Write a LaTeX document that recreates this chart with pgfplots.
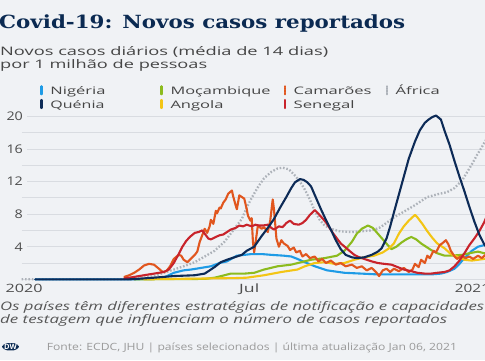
\documentclass[border=0pt]{standalone}
\usepackage{pgfplots}
\pgfplotsset{compat=1.18}
\usepackage{graphicx}
\usepackage{fontspec}
\setmainfont{Open Sans}
\newfontfamily\titlefont{DejaVu Serif}
\definecolor{bgc}{HTML}{F0F2F5}
\definecolor{titlec}{HTML}{0B2A52}
\definecolor{gridc}{HTML}{D9DCE1}
\definecolor{tickc}{HTML}{4D4D4D}
\definecolor{subc}{HTML}{454545}
\definecolor{notec}{HTML}{555555}
\definecolor{srcc}{HTML}{9A9A9A}
\definecolor{ngc}{HTML}{1E9BE6}
\definecolor{kec}{HTML}{0D2B57}
\definecolor{mzc}{HTML}{8CBB1E}
\definecolor{aoc}{HTML}{F3C515}
\definecolor{cmc}{HTML}{E1561E}
\definecolor{snc}{HTML}{C8232B}
\definecolor{afc}{HTML}{ADB2B9}
\newcommand{\sx}[2]{\resizebox{#1}{\height}{#2}}
\newcommand{\legtxt}[3]{\makebox[#1][l]{\sx{#2}{#3}}}
\newcommand{\yl}[1]{\scalebox{1.2}[1]{#1}\hspace*{3.5bp}}
\begin{document}
\begin{tikzpicture}[x=1bp,y=1bp]
\useasboundingbox (0,0) rectangle (485,360);
\fill[bgc] (0,0) rectangle (485,360);
% title and subtitle
\node[anchor=base west, inner sep=0pt, text=titlec] at (-1,331.7)
  {\sx{406bp}{\titlefont\bfseries\fontsize{18.2}{20}\selectfont Covid-19: Novos casos reportados}};
\node[anchor=base west, inner sep=0pt, text=subc] at (0,304.3)
  {\sx{328bp}{\fontsize{11.8}{13}\selectfont Novos casos diários (média de 14 dias)}};
\node[anchor=base west, inner sep=0pt, text=subc] at (0,291.7)
  {\sx{207bp}{\fontsize{11.8}{13}\selectfont por 1 milhão de pessoas}};
% footnote
\node[anchor=base west, inner sep=0pt, text=notec] at (0,49.3)
  {\sx{484bp}{\itshape\fontsize{11.8}{13}\selectfont Os países têm diferentes estratégias de notificação e capacidades}};
\node[anchor=base west, inner sep=0pt, text=notec] at (0,36.7)
  {\sx{447bp}{\itshape\fontsize{11.8}{13}\selectfont de testagem que influenciam o número de casos reportados}};
\node[anchor=base west, inner sep=0pt, text=srcc] at (46.7,10)
  {\sx{410bp}{\fontsize{10}{12}\selectfont Fonte: ECDC, JHU | países selecionados | última atualização Jan 06, 2021}};
\node[fill=titlec, text=white, rounded corners=5bp, inner xsep=2bp, inner ysep=1bp, font=\bfseries\fontsize{7.5}{8}\selectfont] at (10.5,13.3) {DW};
\begin{axis}[
  at={(17.5,99)}, anchor=south west,
  scale only axis, width=467.5bp, height=163bp,
  xmin=-2, xmax=376, ymin=0, ymax=20,
  clip=false,
  axis line style={draw=none},
  tick style={draw=none},
  xtick={0,182,366},
  xticklabels={{\sx{37bp}{2020}},{\sx{20bp}{Jul}},{\hspace*{-9bp}\sx{35bp}{2021}}},
  ytick={0,4,8,12,16,20},
  yticklabels={,{\yl{4}},{\yl{8}},{\yl{12}},{\yl{16}},{\yl{20}}},
  minor ytick={2,6,10,14,18},
  ymajorgrids, yminorgrids,
  major grid style={gridc, line width=0.7bp},
  minor grid style={gridc, line width=0.7bp},
  xticklabel style={anchor=north, inner sep=0pt, yshift=-4.7bp, text=tickc, font=\fontsize{11.5}{12}\selectfont},
  yticklabel style={anchor=east, xshift=5.5bp, inner xsep=0.5bp, inner ysep=0.5bp, fill=bgc, text=tickc, font=\fontsize{12}{12}\selectfont},
  legend columns=4,
  legend image code/.code={\path (0,0) (9bp,0); \draw[#1, line width=2.2bp] (1.1bp,0) -- (1.1bp,8bp);},
  legend style={at={(0.0374,1.192)}, anchor=north west, draw=none, fill=none, inner sep=0pt,
    column sep=0pt, row sep=1.6bp, cells={anchor=base west},
    nodes={inner sep=0pt, text height=8bp, text depth=3bp, text=subc},
    font=\fontsize{10.4}{12}\selectfont},
  every axis plot/.append style={line width=2.1bp, line join=round, line cap=round},
]
\addlegendimage{ngc, solid}
\addlegendentry{\legtxt{109bp}{55bp}{Nigéria}}
\addlegendimage{mzc, solid}
\addlegendentry{\legtxt{112bp}{100bp}{Moçambique}}
\addlegendimage{cmc, dash pattern=on 1.5bp off 1bp}
\addlegendentry{\legtxt{91bp}{78bp}{Camarões}}
\addlegendimage{afc, dash pattern=on 1.3bp off 1.3bp}
\addlegendentry{\legtxt{44bp}{44bp}{África}}
\addlegendimage{kec, solid}
\addlegendentry{\legtxt{109bp}{54bp}{Quénia}}
\addlegendimage{aoc, solid}
\addlegendentry{\legtxt{112bp}{53bp}{Angola}}
\addlegendimage{snc, solid}
\addlegendentry{\legtxt{91bp}{61bp}{Senegal}}
% Africa
\addplot[forget plot, afc, line width=2.3bp, dash pattern=on 1.6bp off 1.8bp, line cap=butt] coordinates {
(-2,0)(89,0)(97,0.2)(105,0.4)(113,0.8)(119,1.1)(129,1.6)(138,2.1)(146,2.8)(154,3.5)(162,4.6)(170,6.2)(176,7.4)(180,8.8)(184,10.0)(189,11.3)(194,12.4)(200,13.2)(205,13.6)(209,13.7)(214,13.5)(218,12.9)(223,12.0)(227,11.0)(231,9.8)(235,8.4)(239,7.3)(243,6.6)(248,6.2)(255,5.9)(265,5.8)(273,5.9)(281,6.0)(287,6.3)(291,6.7)(299,7.6)(307,8.3)(316,9.1)(326,10.1)(336,10.5)(342,10.7)(348,11.2)(354,12.1)(358,13.1)(362,14.1)(366,15.2)(370,16.2)(373,17.0)(376,17.7)};
% Nigeria
\addplot[forget plot, ngc] coordinates {
(9,0)(89,0)(105,0.05)(113,0.2)(121,0.8)(129,1.1)(135,1.2)(143,1.4)(151,1.6)(158,2.0)(164,2.2)(172,2.9)(178,3.0)(184,3.1)(192,3.1)(200,3.0)(210,2.9)(216,2.8)(221,2.5)(227,2.1)(235,1.6)(245,1.1)(259,0.8)(273,0.7)(286,0.6)(299,0.6)(313,0.6)(329,0.6)(337,0.7)(342,0.9)(348,1.3)(352,1.9)(356,2.6)(362,3.5)(367,4.0)(372,4.2)(376,4.3)};
% Mozambique
\addplot[forget plot, mzc] coordinates {
(89,0)(146,0.05)(154,0.2)(162,0.5)(167,0.7)(178,0.7)(186,0.8)(194,1.2)(205,1.6)(216,1.8)(224,2.1)(232,2.4)(243,2.6)(253,2.9)(259,3.5)(265,4.6)(269,5.6)(273,6.2)(278,6.6)(282,6.3)(286,5.6)(290,4.9)(294,4.2)(297,3.7)(301,4.0)(305,4.5)(309,4.9)(313,5.2)(317,4.9)(321,4.4)(325,4.0)(329,3.6)(334,3.2)(340,2.9)(345,2.9)(354,3.0)(360,3.2)(367,3.4)(372,3.2)(376,3.3)};
% Angola
\addplot[forget plot, aoc] coordinates {
(97,0)(124,0.05)(146,0.1)(170,0.15)(180,0.2)(194,0.5)(208,0.9)(221,1.2)(227,1.6)(235,2.0)(243,2.1)(251,1.9)(259,2.0)(267,2.4)(275,2.7)(283,2.9)(290,3.3)(295,3.8)(299,4.4)(303,5.6)(307,6.5)(311,7.2)(316,7.9)(318,7.6)(322,6.8)(326,5.9)(330,5.1)(334,4.4)(340,3.8)(345,3.1)(350,2.8)(356,2.4)(362,2.3)(367,2.4)(372,2.5)(376,2.6)};
% Cameroon
\addplot[forget plot, cmc] coordinates {
(81,0.3)(85,0.5)(89,0.8)(93,1.2)(97,1.7)(101,1.9)(105,1.8)(109,1.3)(112,0.9)(115,1.0)(118,1.6)(121,2.5)(125,3.0)(127,2.9)(129,2.4)(132,2.1)(134,2.4)(138,3.0)(140,3.4)(142,4.6)(145,5.8)(146,6.2)(148,5.7)(150,6.5)(151,7.3)(153,6.8)(155,8.4)(156,8.1)(158,8.8)(159,8.7)(161,9.4)(163,9.8)(165,10.5)(168,10.9)(169,10.2)(171,9.1)(172,8.6)(174,10.3)(176,10.1)(178,9.9)(180,8.6)(181,7.8)(183,7.2)(184,7.5)(185,4.6)(186,3.3)(188,5.5)(189,6.6)(192,6.2)(194,6.4)(197,5.8)(199,7.2)(201,9.8)(202,8.6)(204,5.0)(206,4.0)(208,4.8)(210,4.4)(213,4.1)(215,3.6)(218,3.9)(220,3.3)(223,3.5)(225,2.8)(228,3.1)(231,2.6)(235,2.8)(238,2.2)(241,2.5)(244,2.0)(248,2.3)(252,1.8)(256,2.0)(260,1.6)(265,1.8)(269,1.4)(273,1.6)(277,1.1)(281,1.4)(285,0.8)(287,0.4)(290,1.1)(293,1.3)(296,0.9)(299,1.3)(303,1.0)(307,1.4)(311,0.9)(314,1.2)(316,1.9)(319,1.5)(321,2.4)(324,2.0)(326,2.9)(328,2.6)(331,3.5)(333,3.3)(336,4.2)(338,4.4)(341,4.8)(343,4.3)(345,3.5)(348,2.8)(350,2.5)(354,2.9)(357,2.6)(360,2.8)(363,2.5)(367,2.9)(370,2.6)(373,3.0)(376,2.8)};
% Senegal
\addplot[forget plot, snc] coordinates {
(81,0.1)(89,0.3)(97,0.5)(105,0.7)(113,0.9)(117,1.2)(121,2.0)(125,3.1)(128,4.0)(131,4.7)(134,5.2)(138,5.7)(141,5.8)(144,6.0)(146,5.6)(149,5.0)(151,4.9)(155,5.2)(158,5.4)(161,5.5)(164,5.8)(167,6.1)(171,6.3)(174,6.6)(177,6.5)(180,6.7)(184,6.5)(187,6.7)(190,6.6)(193,6.6)(197,6.7)(200,6.3)(202,6.1)(206,6.5)(209,6.4)(212,6.9)(215,7.2)(218,6.8)(222,6.7)(225,6.9)(228,7.3)(231,7.9)(235,8.5)(237,8.2)(240,7.7)(244,7.0)(247,6.3)(250,5.6)(253,5.0)(256,4.4)(260,3.9)(263,3.5)(267,3.0)(271,2.7)(275,2.5)(281,2.2)(286,2.0)(291,1.9)(297,1.8)(302,1.5)(307,1.2)(313,1.0)(318,0.8)(324,0.7)(329,0.7)(334,0.8)(340,0.9)(344,1.1)(348,1.6)(352,2.3)(356,3.2)(360,4.2)(364,5.0)(368,5.9)(372,7.0)(376,8.5)};
% Kenya
\addplot[forget plot, kec] coordinates {
(9,0)(85,0)(91,0.05)(105,0.2)(121,0.4)(138,0.5)(146,0.7)(151,1.2)(154,1.5)(159,2.1)(164,2.4)(170,2.7)(176,3.0)(180,3.5)(186,4.0)(192,5.3)(197,6.3)(202,7.4)(207,8.8)(212,10.1)(216,11.2)(219,11.9)(223,12.3)(226,12.2)(229,11.9)(232,11.4)(236,10.0)(240,8.6)(244,7.3)(248,6.1)(252,4.8)(256,3.7)(260,3.0)(265,2.7)(269,2.6)(275,2.7)(281,3.0)(286,3.4)(289,3.8)(293,5.0)(296,6.5)(299,8.2)(303,10.4)(307,12.6)(311,14.8)(316,16.9)(320,18.3)(324,19.2)(327,19.6)(330,19.9)(333,20.1)(337,19.6)(340,18.2)(344,16.5)(348,14.5)(352,12.6)(356,10.8)(360,8.9)(364,7.1)(368,5.5)(372,4.3)(375,3.7)};
\end{axis}
\end{tikzpicture}
\end{document}
